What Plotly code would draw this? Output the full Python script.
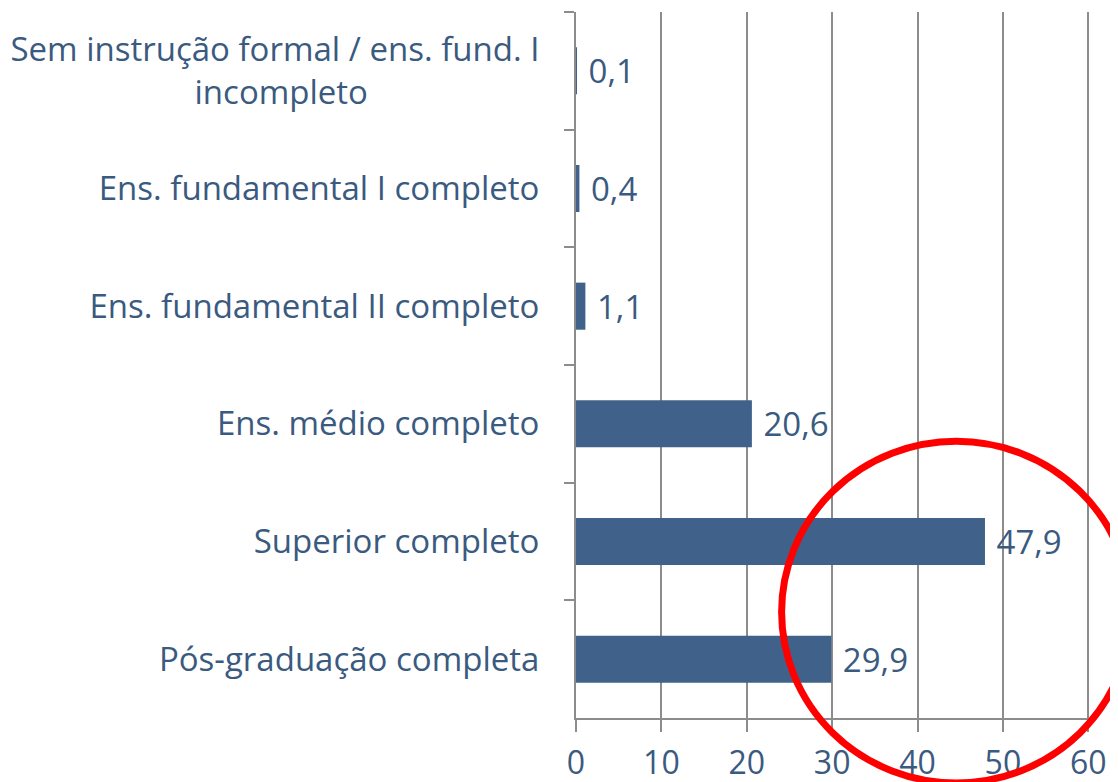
import plotly.graph_objects as go

PAD = "\u00a0" * 20
categories = [
    "Sem instrução formal / ens. fund. I<br>incompleto" + PAD,
    "Ens. fundamental I completo",
    "Ens. fundamental II completo",
    "Ens. médio completo",
    "Superior completo",
    "Pós-graduação completa",
]
values = [0.1, 0.4, 1.1, 20.6, 47.9, 29.9]
x_ticks = [0, 10, 20, 30, 40, 50, 60]

BLUE = "#40628A"
TXT = "#3A5A80"
GRID = "#8C8C8C"
FONT = "Open Sans"

fig = go.Figure()
fig.add_trace(go.Bar(
    y=categories, x=values, orientation="h",
    marker=dict(color=BLUE, line=dict(width=0)),
    texttemplate="\u00a0%{x:.1f}", textposition="outside",
    textfont=dict(family=FONT, size=33, color=TXT),
    cliponaxis=False,
))

fig.update_layout(
    width=1118, height=782,
    margin=dict(l=568, r=36, t=4, b=72),
    paper_bgcolor="white", plot_bgcolor="white",
    separators=",.",
    bargap=0.6,
    showlegend=False,
    font=dict(family=FONT, size=33, color=TXT),
    shapes=[dict(
        type="circle", xref="paper", yref="paper",
        x0=0.40, x1=1.08, y0=-0.092, y1=0.392,
        line=dict(color="#FF0000", width=7),
    )],
)
fig.update_xaxes(
    range=[0, 60.2], tickvals=x_ticks,
    showgrid=True, gridcolor=GRID, gridwidth=2,
    showline=True, linecolor=GRID, linewidth=2,
    ticks="outside", ticklen=12, tickcolor=GRID, tickwidth=2,
    ticklabelstandoff=4, automargin=False,
    tickfont=dict(family=FONT, size=32, color=TXT),
    zeroline=False,
)
fig.update_yaxes(
    autorange="reversed", automargin=False,
    showline=True, linecolor=GRID, linewidth=2,
    ticks="outside", ticklen=10, tickcolor=GRID, tickwidth=2,
    tickson="boundaries",
    ticklabelstandoff=28,
    tickfont=dict(family=FONT, size=33, color=TXT),
)

fig.write_html("out.html")
